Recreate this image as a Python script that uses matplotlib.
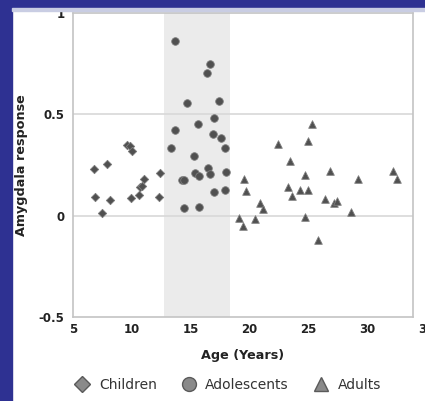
import matplotlib.pyplot as plt
from matplotlib.lines import Line2D
from matplotlib.patches import Rectangle
from matplotlib.transforms import offset_copy

# ages (years) and amygdala response
child_age = [6.81, 7.89, 9.57, 9.85, 9.99, 6.87, 8.17, 7.47, 9.96, 10.58,
             10.70, 11.01, 12.40, 12.29, 10.85]
child_resp = [0.232, 0.254, 0.348, 0.342, 0.320, 0.093, 0.076, 0.013, 0.085, 0.103,
              0.141, 0.183, 0.212, 0.093, 0.146]

teen_age = [13.67, 16.65, 16.42, 14.67, 17.45, 16.99, 15.66, 13.67, 16.88, 17.56,
            17.93, 13.31, 15.31, 16.51, 15.40, 15.74, 16.65, 18.01, 14.24, 14.47,
            16.99, 17.93, 14.47, 15.71]
teen_resp = [0.864, 0.746, 0.705, 0.556, 0.566, 0.484, 0.453, 0.423, 0.403, 0.381,
             0.332, 0.333, 0.295, 0.237, 0.212, 0.196, 0.204, 0.217, 0.174, 0.176,
             0.116, 0.126, 0.038, 0.043]

adult_age = [25.30, 24.96, 22.46, 23.48, 26.88, 32.24, 32.58, 29.26, 24.74, 19.56,
             19.68, 23.25, 23.59, 24.30, 25.01, 26.43, 27.19, 27.42, 28.64, 20.90,
             21.18, 19.12, 19.48, 20.48, 24.73, 25.81]
adult_resp = [0.453, 0.370, 0.353, 0.270, 0.220, 0.220, 0.179, 0.183, 0.200, 0.179,
              0.121, 0.141, 0.096, 0.129, 0.129, 0.083, 0.063, 0.071, 0.018, 0.063,
              0.035, -0.011, -0.050, -0.016, -0.006, -0.119]

teen_band = (12.7, 18.35)
x_ticks = [5, 10, 15, 20, 25, 30]
y_ticks = [-0.5, 0, 0.5, 1]
y_tick_labels = ['-0.5', '0', '0.5', '1']

fig = plt.figure(figsize=(4.25, 4.01), dpi=100)
fig.patch.set_facecolor('white')

# blue frame of the slide
fig.patches.append(Rectangle((0, 0), 12 / 425, 1, transform=fig.transFigure,
                             color='#2e3192', zorder=0))
fig.patches.append(Rectangle((0, 1 - 8 / 401), 1, 8 / 401, transform=fig.transFigure,
                             color='#2e3192', zorder=0))
fig.patches.append(Rectangle((12 / 425, 1 - 11 / 401), 1, 3 / 401, transform=fig.transFigure,
                             color='#c9cde3', zorder=0))

ax = fig.add_axes([73 / 425, 1 - 317 / 401, 340 / 425, 304 / 401])
ax.set_facecolor('white')

ax.axvspan(*teen_band, color='#ebebeb', zorder=0, lw=0)
for yv in [0, 0.5]:
    ax.axhline(yv, color='#d8d8d8', lw=1.2, zorder=1)

mk = dict(color='#505050', edgecolor='#7d7d7d', linewidths=0.6, zorder=3)
ax.scatter(child_age, child_resp, marker='D', s=18, **mk)
ax.scatter(teen_age, teen_resp, marker='o', s=30, **mk)
ax.scatter(adult_age, adult_resp, marker='^', s=30, **mk)

ax.set_xlim(5, 33.9)
ax.set_ylim(-0.5, 1)
ax.set_xticks(x_ticks)
ax.set_yticks(y_ticks)
ax.set_yticklabels(y_tick_labels)
ax.tick_params(length=0, labelsize=8.5, colors='#222222')
ax.tick_params(axis='y', pad=6)
ax.tick_params(axis='x', pad=4)
for lab in ax.get_xticklabels() + ax.get_yticklabels():
    lab.set_fontweight('bold')
# last tick label sits past the frame in the original (cut by the image edge)
ax.text(35, -0.5, '35', transform=offset_copy(ax.transData, fig, y=-4, units='points'),
        ha='center', va='top', fontsize=8.5, fontweight='bold', color='#222222', clip_on=False)

for s in ax.spines.values():
    s.set_color('#c4c4c4')
    s.set_linewidth(1.2)

ax.set_xlabel('Age (Years)', fontsize=9.2, fontweight='bold', color='#222222', labelpad=10)
ax.set_ylabel('Amygdala response', fontsize=9.2, fontweight='bold', color='#222222', labelpad=8)

handles = [
    Line2D([], [], ls='', marker='D', ms=8, mfc='#8a8a8a', mec='#5a5a5a', label='Children'),
    Line2D([], [], ls='', marker='o', ms=10, mfc='#8a8a8a', mec='#5a5a5a', label='Adolescents'),
    Line2D([], [], ls='', marker='^', ms=10, mfc='#8a8a8a', mec='#5a5a5a', label='Adults'),
]
leg = fig.legend(handles=handles, loc='center', bbox_to_anchor=(0.535, 1 - 385 / 401), ncol=3,
                 frameon=False, fontsize=10, handletextpad=0.6, columnspacing=1.7,
                 handlelength=1.2)
for t in leg.get_texts():
    t.set_color('#333333')

fig.savefig('out.png', dpi=100)
